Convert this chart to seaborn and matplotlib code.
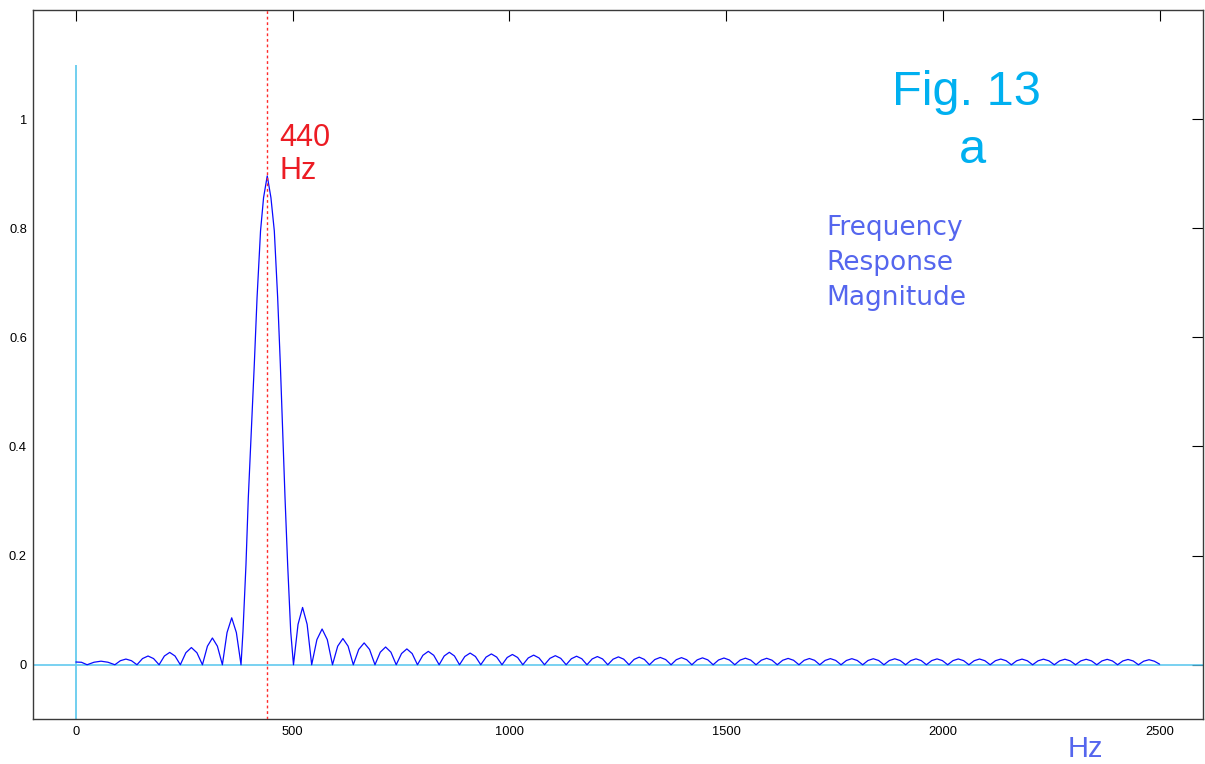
import pandas as pd
import seaborn as sns
import matplotlib.pyplot as plt

# Curve (frequency in Hz, magnitude)
start_hz = [0, 13]
start_mag = [0.005, 0.0045]

# side lobes left of the main lobe: zero crossings, peak and shoulder heights
left_zero_hz = [26, 90, 141, 192, 241, 292, 338, 381]
left_peak_mag = [0.0065, 0.0104, 0.016, 0.0226, 0.0315, 0.049, 0.086]
left_shoulder_mag = [0.0046, 0.0074, 0.0113, 0.016, 0.022, 0.034, 0.059]

# main lobe around 440 Hz
main_hz = [381, 385.5, 392.4, 397.8, 404.7, 411.6, 418, 426, 433, 441.5,
           450, 457.8, 465.5, 471.7, 477, 482.5, 488.6, 495.6]
main_mag = [0, 0.061, 0.183, 0.306, 0.428, 0.55, 0.673, 0.795, 0.856, 0.896,
            0.856, 0.795, 0.673, 0.55, 0.428, 0.306, 0.183, 0.061]

# side lobes right of the main lobe
right_zero_hz = [502, 544, 592, 640, 690, 739, 788, 838, 885, 934, 983, 1031,
                 1081, 1131, 1179, 1227, 1276, 1323, 1373, 1421, 1470, 1520,
                 1569, 1618, 1668, 1716, 1765, 1815, 1864, 1914, 1962, 2011,
                 2060, 2109, 2158, 2207, 2257, 2306, 2355, 2403, 2451, 2500]
right_peak_mag = [0.105, 0.0655, 0.048, 0.040, 0.0325, 0.029, 0.0245, 0.0228,
                  0.0214, 0.0198, 0.0188, 0.0176, 0.0166, 0.0156, 0.015, 0.0144,
                  0.0139, 0.0134, 0.013, 0.0126, 0.0123, 0.012, 0.0118, 0.0116,
                  0.0114, 0.0112, 0.0111, 0.011, 0.0109, 0.0108, 0.0107, 0.0106,
                  0.0105, 0.0104, 0.0103, 0.0102, 0.0101, 0.0100, 0.0099, 0.0097,
                  0.0092]
right_shoulder_mag = [0.074, 0.046, 0.034, 0.028, 0.023, 0.0205, 0.0173, 0.0161,
                      0.0151, 0.014, 0.0133, 0.0124, 0.0117, 0.011, 0.0106, 0.0102,
                      0.0098, 0.0095, 0.0092, 0.0089, 0.0087, 0.0085, 0.0083, 0.0082,
                      0.0081, 0.0079, 0.0078, 0.0078, 0.0077, 0.0076, 0.0076, 0.0075,
                      0.0074, 0.0074, 0.0073, 0.0072, 0.0071, 0.0071, 0.007, 0.0069,
                      0.0065]
end_mag = 0.001

tone_hz = 440
stem_top = 1.1
xticks = [0, 500, 1000, 1500, 2000, 2500]
yticks = [0, 0.2, 0.4, 0.6, 0.8, 1]
ytick_labels = ["0", "0.2", "0.4", "0.6", "0.8", "1"]


def lobe_points(zeros, peaks, shoulders):
    xs, ys = [], []
    for i, pk in enumerate(peaks):
        a, b = zeros[i], zeros[i + 1]
        w = b - a
        xs += [a, a + w / 4, a + w / 2, a + 3 * w / 4]
        ys += [0, shoulders[i], pk, shoulders[i]]
    return xs, ys


lx, ly = lobe_points(left_zero_hz, left_peak_mag, left_shoulder_mag)
rx, ry = lobe_points(right_zero_hz, right_peak_mag, right_shoulder_mag)
df = pd.DataFrame({
    "hz": start_hz + lx + main_hz + rx + [right_zero_hz[-1]],
    "mag": start_mag + ly + main_mag + ry + [end_mag],
})

sns.set_style("white")
plt.rcParams["font.family"] = ["Liberation Sans", "DejaVu Sans"]

W, H = 1205, 764
fig = plt.figure(figsize=(W / 100, H / 100), dpi=100)
ax = fig.add_axes([32.5 / W, 1 - 719.3 / H, (1203 - 32.5) / W, (719.3 - 10) / H])


def fxy(px, py):
    return px / W, 1 - py / H


# reference lines
ax.axhline(0, color="#55c5ee", lw=1.1, zorder=1)
ax.vlines(0, -0.1, stem_top, color="#66ccee", lw=1.3, zorder=1)
ax.axvline(tone_hz, color="#ff2a2a", lw=1.0, ls=(0, (2, 2)), zorder=3)

sns.lineplot(data=df, x="hz", y="mag", sort=False, estimator=None,
             color="#0a0aff", lw=0.9, ax=ax, zorder=2)

ax.set_xlim(-100, 2600)
ax.set_ylim(-0.1, 1.2)
ax.set_xticks(xticks)
ax.set_xticklabels([str(t) for t in xticks])
ax.set_yticks(yticks)
ax.set_yticklabels(ytick_labels)
ax.set_xlabel("")
ax.set_ylabel("")
ax.tick_params(direction="in", length=8, width=0.8, color="black",
               top=True, right=True, labelsize=9.3, labelcolor="black")
ax.tick_params(axis="x", pad=4.5)
ax.tick_params(axis="y", pad=4)
for sp in ax.spines.values():
    sp.set_color("#3a3a3a")
    sp.set_linewidth(1.0)

# annotations
fig.text(*fxy(966.7, 105), "Fig. 13", ha="center", va="baseline",
         fontsize=35, color="#00b0f0")
fig.text(*fxy(972.3, 162.7), "a", ha="center", va="baseline",
         fontsize=35, color="#00b0f0")
fig.text(*fxy(279, 145.7), "440", ha="left", va="baseline",
         fontsize=22, color="#ec1c24")
fig.text(*fxy(279, 179), "Hz", ha="left", va="baseline",
         fontsize=22, color="#ec1c24")
for txt, base in [("Frequency", 235), ("Response", 270), ("Magnitude", 305)]:
    fig.text(*fxy(826, base), txt, ha="left", va="baseline",
             fontsize=19, color="#5566ee", family="DejaVu Sans")
fig.text(*fxy(1068, 757), "Hz", ha="left", va="baseline",
         fontsize=21, color="#5566ee")

fig.savefig("out.png", dpi=100, facecolor="white")
